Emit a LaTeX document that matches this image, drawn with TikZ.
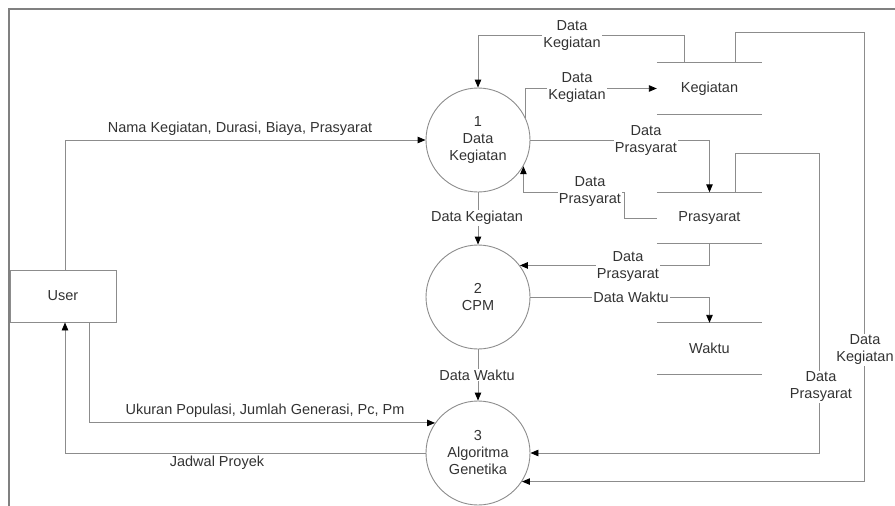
\documentclass[tikz,border=0pt]{standalone}
\usepackage{fontspec}
\setmainfont{Liberation Sans}
\usetikzlibrary{arrows.meta}
\definecolor{lin}{HTML}{8C8C8C}
\definecolor{txt}{HTML}{333333}
\begin{document}
\begin{tikzpicture}[x=1pt,y=-1pt,
  every node/.style={font=\fontsize{14.5}{17}\selectfont,text=txt},
  proc/.style={circle,draw=lin,line width=0.9pt,minimum size=104pt,inner sep=0pt,align=center},
  store/.style={minimum width=105pt,minimum height=51pt,inner sep=0pt},
  ext/.style={draw=lin,line width=0.9pt,minimum width=106pt,minimum height=52pt,inner sep=0pt},
  flow/.style={draw=lin,line width=0.9pt,-{Triangle[length=8pt,width=6.5pt,color=black]}},
  lbl/.style={fill=white,inner sep=1pt,align=center}]
\useasboundingbox (0,0) rectangle (895,506);
\draw[draw=gray,line width=2pt] (9,506) -- (9,9) -- (895,9);
% processes
\node[proc] (p1) at (478,140) {1\\Data\\Kegiatan};
\node[proc] (p2) at (478,297) {2\\CPM};
\node[proc] (p3) at (478,453) {3\\Algoritma\\Genetika};
% external
\node[ext] (u) at (63,296) {User};
% stores
\node[store] (s1) at (709.5,88.5) {Kegiatan};
\node[store] (s2) at (709.5,218) {Prasyarat};
\node[store] (s3) at (709.5,348.5) {Waktu};
\foreach \s in {s1,s2,s3}{
  \draw[lin,line width=0.9pt] (\s.north west) -- (\s.north east);
  \draw[lin,line width=0.9pt] (\s.south west) -- (\s.south east);
}
% flows
\draw[flow] ([xshift=2pt]u.north) |- (p1.west);
\draw[flow] ([xshift=26pt]u.south) |- (p3.145);
\draw[flow] (p3.west) -| ([xshift=2pt]u.south);
\draw[flow] ([xshift=28pt]s1.north west) -- ++(0,-27) -| (p1.north);
\draw[flow] (p1.25) |- (s1.west);
\draw[flow] (p1.east) -| (s2.north);
\draw[flow] (s2.west) -- ++(-32,0) -- ++(0,-26) -| (p1.-30);
\draw[flow] (p1.south) -- (p2.north);
\draw[flow] (s2.south) |- (p2.37);
\draw[flow] (p2.east) -| (s3.north);
\draw[flow] (p2.south) -- (p3.north);
\draw[flow] ([xshift=79pt]s2.north west) -- ++(0,-39) -- ++(84,0) |- (p3.east);
\draw[flow] ([xshift=79pt]s1.north west) -- ++(0,-30) -- ++(129,0) |- (p3.-33);
% labels
\node (l1) at (240,129) {Nama Kegiatan, Durasi, Biaya, Prasyarat};
\node (l2) at (265,411) {Ukuran Populasi, Jumlah Generasi, Pc, Pm};
\node (l3) at (217,463) {Jadwal Proyek};
\node[lbl] (l4) at (572,36) {Data\\Kegiatan};
\node[lbl] (l5) at (577,88) {Data\\Kegiatan};
\node[lbl] (l6) at (646,140.5) {Data\\Prasyarat};
\node[lbl] (l7) at (590,192) {Data\\Prasyarat};
\node[lbl] (l8) at (477,218) {Data Kegiatan};
\node[lbl] (l9) at (628,267) {Data\\Prasyarat};
\node[lbl] (l10) at (631,297) {Data Waktu};
\node[lbl] (l11) at (477,375) {Data Waktu};
\node[lbl] (l12) at (821,387) {Data\\Prasyarat};
\node[lbl] (l13) at (865,350) {Data\\Kegiatan};
\end{tikzpicture}
\end{document}
